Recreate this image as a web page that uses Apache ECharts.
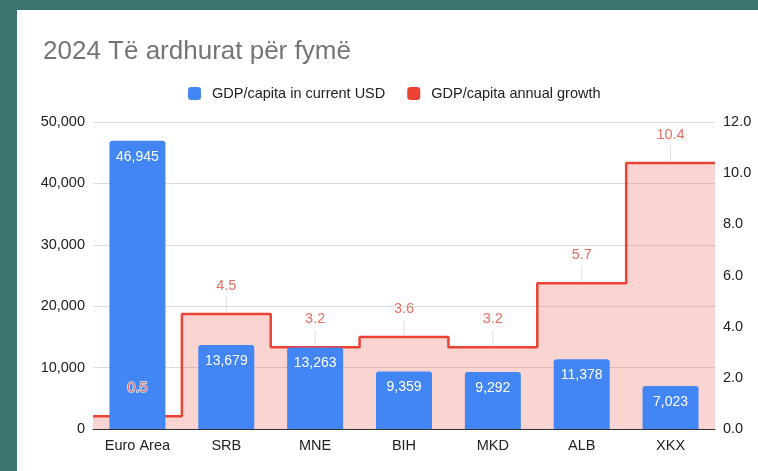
<!DOCTYPE html>
<html>
<head>
<meta charset="utf-8">
<script src="https://cdn.jsdelivr.net/npm/echarts@6/dist/echarts.min.js"></script>
<style>
  html, body { margin: 0; padding: 0; }
  body { width: 758px; height: 471px; background: #3c7471; position: relative; overflow: hidden; }
  #chart { position: absolute; left: 17px; top: 10px; width: 741px; height: 461px; background: #fff; }
</style>
</head>
<body>
<div id="chart"></div>
<script>
// data
var categories = ["Euro Area", "SRB", "MNE", "BIH", "MKD", "ALB", "XKX"];
var gdpPerCapita = [46945, 13679, 13263, 9359, 9292, 11378, 7023];
var gdpGrowth = [0.5, 4.5, 3.2, 3.6, 3.2, 5.7, 10.4];
var leftTicks = [0, 10000, 20000, 30000, 40000, 50000];
var rightTicks = [0, 2, 4, 6, 8, 10, 12];

var FONT = '"Liberation Sans", Arial, sans-serif';
var BLUE = "#4285f4";
var RED = "#ea4335";

// step line: each value covers its whole category band
var stepData = gdpGrowth.map(function (v, i) { return [i, v]; });
stepData.push([gdpGrowth.length, gdpGrowth[gdpGrowth.length - 1]]);

var myChart = echarts.init(document.getElementById("chart"));
var option = {
  animation: false,
  textStyle: { fontFamily: FONT },
  title: {
    text: "2024 Të ardhurat për fymë",
    left: 21,
    top: 24,
    textStyle: { fontFamily: FONT, fontSize: 26, fontWeight: "normal", color: "#757575" }
  },
  legend: {
    left: 166,
    top: 71,
    itemWidth: 13,
    itemHeight: 13,
    itemGap: 22,
    icon: "roundRect",
    textStyle: { fontFamily: FONT, fontSize: 14.5, color: "#222", padding: [0, 0, 0, 6] },
    data: ["GDP/capita in current USD", "GDP/capita annual growth"]
  },
  grid: { left: 76, right: 43, top: 112, bottom: 42 },
  xAxis: [
    {
      type: "category",
      data: categories,
      axisLine: { show: true, lineStyle: { color: "#333", width: 1 } },
      axisTick: { show: false },
      axisLabel: { color: "#222", fontSize: 14.5, fontFamily: FONT, margin: 9 },
      z: 10
    },
    {
      // hidden value axis so the step line can run edge to edge
      type: "value",
      min: 0,
      max: categories.length,
      show: false
    }
  ],
  yAxis: [
    {
      type: "value",
      min: leftTicks[0],
      max: leftTicks[leftTicks.length - 1],
      interval: leftTicks[1] - leftTicks[0],
      axisLine: { show: false },
      axisTick: { show: false },
      splitLine: { lineStyle: { color: "#dcdcdc", width: 1 } },
      axisLabel: {
        color: "#222", fontSize: 14.5, fontFamily: FONT, margin: 8,
        formatter: function (v) { return v.toLocaleString("en-US"); }
      }
    },
    {
      type: "value",
      min: rightTicks[0],
      max: rightTicks[rightTicks.length - 1],
      interval: rightTicks[1] - rightTicks[0],
      axisLine: { show: false },
      axisTick: { show: false },
      splitLine: { show: false },
      axisLabel: {
        color: "#222", fontSize: 14.5, fontFamily: FONT, margin: 8,
        formatter: function (v) { return v.toFixed(1); }
      }
    }
  ],
  series: [
    {
      name: "GDP/capita annual growth",
      type: "line",
      xAxisIndex: 1,
      yAxisIndex: 1,
      step: "end",
      data: stepData,
      symbol: "none",
      z: 1,
      itemStyle: { color: RED },
      lineStyle: { color: RED, width: 2.5 },
      areaStyle: { color: "rgba(234,67,53,0.33)" }
    },
    {
      // thin grey leader lines above each step
      type: "scatter",
      xAxisIndex: 0,
      yAxisIndex: 1,
      data: gdpGrowth,
      symbol: "rect",
      symbolSize: [1, 16],
      symbolOffset: [0, -9],
      itemStyle: { color: "#d6d6d6" },
      silent: true,
      z: 1
    },
    {
      name: "GDP/capita in current USD",
      type: "bar",
      xAxisIndex: 0,
      yAxisIndex: 0,
      data: gdpPerCapita,
      barWidth: "63%",
      z: 2,
      itemStyle: { color: BLUE, borderRadius: [3, 3, 0, 0] },
      label: {
        show: true,
        position: "insideTop",
        distance: 9,
        color: "#fff",
        fontSize: 14,
        fontFamily: FONT,
        formatter: function (p) { return p.value.toLocaleString("en-US"); }
      }
    },
    {
      // growth value labels
      type: "scatter",
      xAxisIndex: 0,
      yAxisIndex: 1,
      data: gdpGrowth,
      symbolSize: 0,
      silent: true,
      z: 5,
      label: {
        show: true,
        position: "inside",
        offset: [0, -28],
        color: "#e0483a",
        fontSize: 14.5,
        fontFamily: FONT,
        textBorderColor: "#fff",
        textBorderWidth: 1.5,
        formatter: function (p) { return p.value.toFixed(1); }
      }
    }
  ]
};
myChart.setOption(option);
</script>
</body>
</html>
